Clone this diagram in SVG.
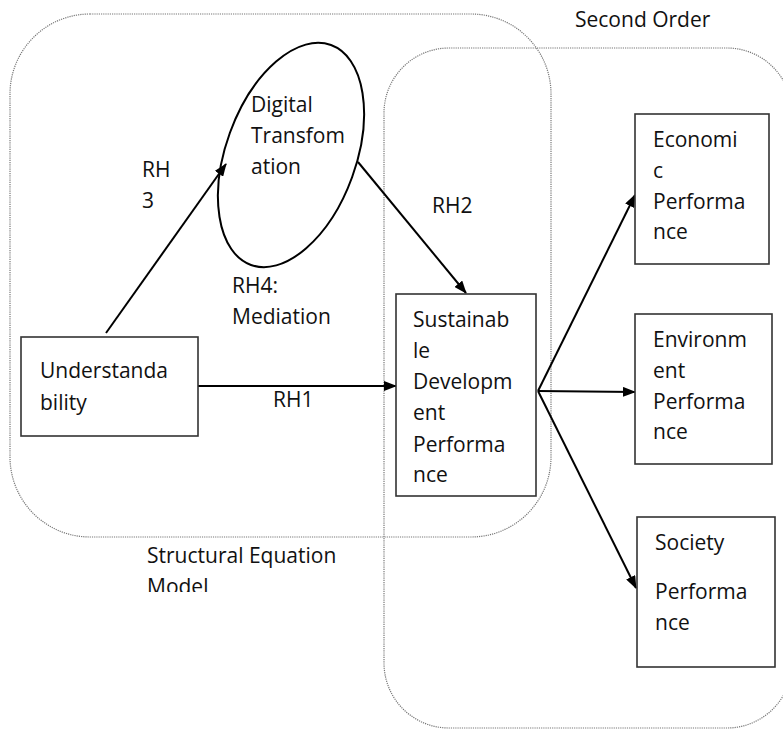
<svg xmlns="http://www.w3.org/2000/svg" width="783" height="730" viewBox="0 0 783 730">
  <style>
    .t { font-family: "Open Sans", "Liberation Sans", sans-serif; font-size: 21px; fill: #111; }
    .box { fill: #fff; stroke: #333; stroke-width: 1.6; }
    .grp { fill: none; stroke: #777; stroke-width: 1.2; stroke-dasharray: 1.2 1; }
    .edge { fill: none; stroke: #000; stroke-width: 2; marker-end: url(#arr); }
  </style>
  <defs>
    <marker id="arr" markerUnits="userSpaceOnUse" markerWidth="13" markerHeight="10" refX="12" refY="5" orient="auto">
      <path d="M0,0 L13,5 L0,10 z" fill="#000"/>
    </marker>
    <clipPath id="clipModel">
      <rect x="0" y="0" width="783" height="592"/>
    </clipPath>
  </defs>
  <rect width="783" height="730" fill="#fff"/>

  <g id="group-sem">
    <rect class="grp" x="10" y="14" width="541" height="523" rx="80" ry="80"/>
    <text class="t" x="147" y="563">Structural Equation</text>
    <text class="t" x="147" y="594" clip-path="url(#clipModel)">Model</text>
  </g>
  <g id="group-second-order">
    <rect class="grp" x="384" y="48" width="408" height="680" rx="65" ry="65"/>
    <text class="t" x="575" y="27">Second Order</text>
  </g>

  <g id="connectors">
    <line class="edge" x1="106" y1="333" x2="226" y2="164"/>
    <line class="edge" x1="358" y1="162" x2="466" y2="293"/>
    <line class="edge" x1="198" y1="386" x2="396" y2="386"/>
    <line class="edge" x1="538" y1="391" x2="635" y2="195"/>
    <line class="edge" x1="538" y1="391" x2="635" y2="392"/>
    <line class="edge" x1="538" y1="391" x2="636" y2="588"/>
    <text class="t" x="142" y="177">RH</text>
    <text class="t" x="142" y="208">3</text>
    <text class="t" x="432" y="213">RH2</text>
    <text class="t" x="273" y="407">RH1</text>
    <text class="t" x="232" y="293">RH4:</text>
    <text class="t" x="232" y="324">Mediation</text>
  </g>

  <g id="node-digital">
    <ellipse cx="291" cy="155" rx="65" ry="117" transform="rotate(20 291 155)" fill="none" stroke="#000" stroke-width="2"/>
    <text class="t" x="251" y="112">Digital</text>
    <text class="t" x="251" y="143">Transfom</text>
    <text class="t" x="251" y="174">ation</text>
  </g>

  <g id="node-understandability">
    <rect class="box" x="21" y="337" width="177" height="99"/>
    <text class="t" x="40" y="378">Understanda</text>
    <text class="t" x="40" y="410">bility</text>
  </g>

  <g id="node-sustainable">
    <rect class="box" x="396" y="294" width="140" height="202"/>
    <text class="t" x="413" y="327">Sustainab</text>
    <text class="t" x="413" y="358">le</text>
    <text class="t" x="413" y="389">Developm</text>
    <text class="t" x="413" y="420">ent</text>
    <text class="t" x="413" y="452">Performa</text>
    <text class="t" x="413" y="482">nce</text>
  </g>

  <g id="node-economic">
    <rect class="box" x="635" y="114" width="134" height="150"/>
    <text class="t" x="653" y="147">Economi</text>
    <text class="t" x="653" y="178">c</text>
    <text class="t" x="653" y="209">Performa</text>
    <text class="t" x="653" y="239">nce</text>
  </g>

  <g id="node-environment">
    <rect class="box" x="635" y="314" width="137" height="150"/>
    <text class="t" x="653" y="347">Environm</text>
    <text class="t" x="653" y="378">ent</text>
    <text class="t" x="653" y="409">Performa</text>
    <text class="t" x="653" y="439">nce</text>
  </g>

  <g id="node-society">
    <rect class="box" x="637" y="517" width="138" height="150"/>
    <text class="t" x="655" y="550">Society</text>
    <text class="t" x="655" y="599">Performa</text>
    <text class="t" x="655" y="630">nce</text>
  </g>
</svg>
